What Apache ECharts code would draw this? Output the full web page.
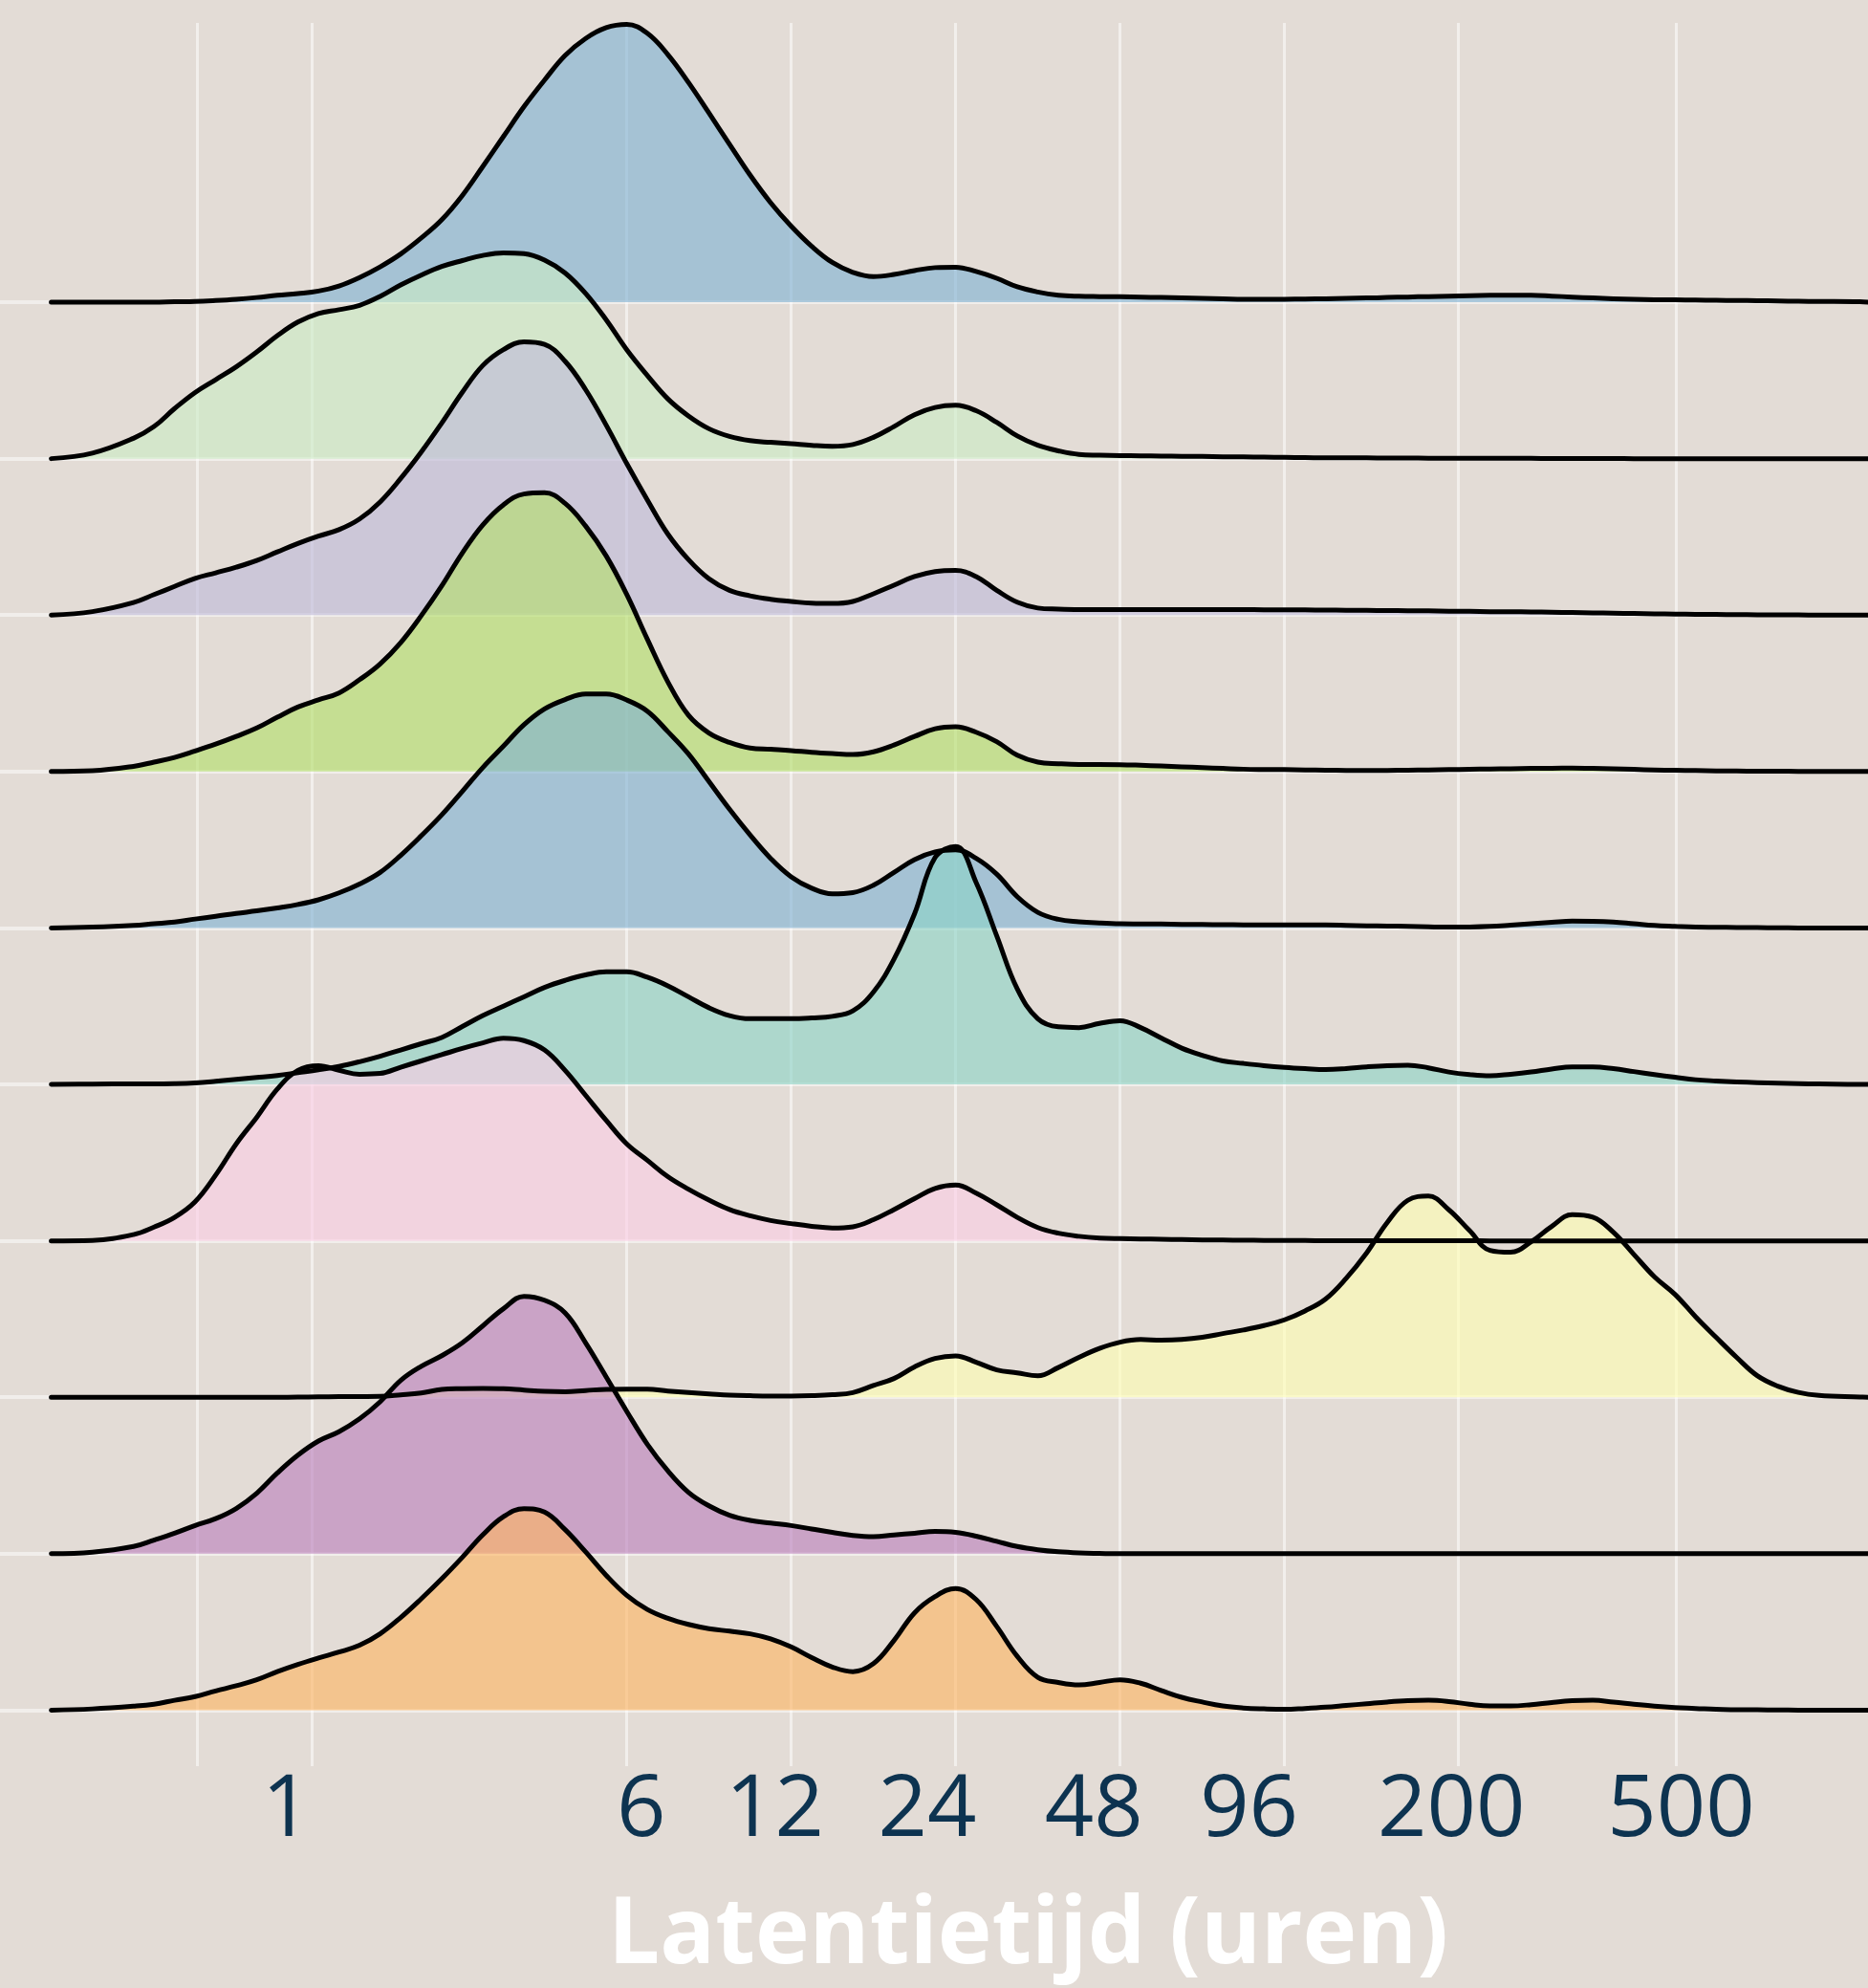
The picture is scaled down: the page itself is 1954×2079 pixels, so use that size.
<!DOCTYPE html>
<html><head><meta charset="utf-8">
<script src="https://cdn.jsdelivr.net/npm/echarts@6/dist/echarts.min.js"></script>
<style>html,body{margin:0;padding:0;background:#E3DCD6;}#c{width:1954px;height:2079px;}</style>
</head><body><div id="c"></div>
<script>
// Sample positions (hours) shared by all ridgelines
const hours = [0.5303, 0.6307,
  0.75, 0.8179, 0.8919, 0.9726, 1.0607, 1.1567, 1.2613, 1.3755, 1.5, 1.6358,
  1.7838, 1.9453, 2.1213, 2.3134, 2.5227, 2.7511, 3, 3.2716, 3.5676, 3.8906,
  4.2426, 4.6268, 5.0454, 5.5022, 6, 6.5431, 7.1352, 7.781, 8.4853, 9.2533,
  10.0907, 11.004, 12, 13.086, 14.2705, 15.562, 16.9706, 18.507, 20.1815, 22.009,
  24, 26.172, 28.541, 31.124, 33.941, 37.013, 40.363, 44.016, 48, 52.345,
  57.082, 62.249, 67.882, 74.026, 80.726, 88.032, 96, 104.69, 114.16, 124.5,
  135.76, 148.05, 161.45, 176.06, 192, 209.38, 228.33, 248.99, 271.53, 296.1,
  322.9, 352.13, 384, 418.75, 456.66, 497.98, 543.06, 592.21, 645.8, 704.26,
  768, 837.5, 913.3,
  1086.1, 1124];

// Density heights (ridge units), top ridge first
const ridge1 = [0, 0,
  0, 0, 0.003, 0.005, 0.011, 0.019, 0.03, 0.044, 0.055, 0.071,
  0.104, 0.158, 0.226, 0.308, 0.41, 0.527, 0.682, 0.868, 1.059, 1.25,
  1.42, 1.577, 1.686, 1.755, 1.776, 1.719, 1.583, 1.405, 1.209, 1.01,
  0.813, 0.636, 0.486, 0.357, 0.254, 0.191, 0.164, 0.177, 0.202, 0.221,
  0.224, 0.196, 0.153, 0.098, 0.065, 0.045, 0.038, 0.036, 0.035, 0.032,
  0.03, 0.027, 0.025, 0.022, 0.019, 0.019, 0.019, 0.02, 0.022, 0.025,
  0.027, 0.03, 0.033, 0.036, 0.038, 0.041, 0.044, 0.045, 0.044, 0.039,
  0.033, 0.027, 0.022, 0.019, 0.016, 0.015, 0.014, 0.012, 0.011, 0.01,
  0.008, 0.006, 0.005,
  0.003, 0];
const ridge2 = [0, 0.035,
  0.13, 0.205, 0.32, 0.423, 0.505, 0.587, 0.682, 0.786, 0.873, 0.928,
  0.952, 0.98, 1.037, 1.11, 1.173, 1.228, 1.266, 1.299, 1.315, 1.31,
  1.269, 1.187, 1.056, 0.887, 0.696, 0.532, 0.382, 0.273, 0.191, 0.142,
  0.115, 0.104, 0.095, 0.085, 0.079, 0.09, 0.136, 0.205, 0.281, 0.327,
  0.341, 0.306, 0.232, 0.145, 0.085, 0.05, 0.027, 0.022, 0.019, 0.018,
  0.016, 0.015, 0.014, 0.012, 0.011, 0.01, 0.008, 0.007, 0.005, 0.005,
  0.005, 0.004, 0.004, 0.003, 0.003, 0.002, 0.002, 0.002, 0.002, 0.001,
  0.001, 0.001, 0.001, 0, 0, 0, 0, 0, 0, 0,
  0, 0, 0,
  0, 0];
const ridge3 = [0, 0.022,
  0.08, 0.131, 0.183, 0.235, 0.27, 0.306, 0.349, 0.404, 0.458, 0.505,
  0.546, 0.614, 0.723, 0.873, 1.042, 1.228, 1.424, 1.596, 1.697, 1.746,
  1.73, 1.623, 1.441, 1.214, 0.969, 0.737, 0.518, 0.355, 0.232, 0.158,
  0.123, 0.101, 0.087, 0.076, 0.074, 0.087, 0.136, 0.191, 0.246, 0.278,
  0.286, 0.246, 0.158, 0.082, 0.045, 0.038, 0.035, 0.035, 0.035, 0.035,
  0.035, 0.035, 0.035, 0.035, 0.035, 0.034, 0.033, 0.033, 0.032, 0.031,
  0.03, 0.029, 0.028, 0.027, 0.025, 0.024, 0.022, 0.021, 0.02, 0.018,
  0.016, 0.014, 0.012, 0.01, 0.008, 0.006, 0.005, 0.004, 0.003, 0.002,
  0.002, 0.001, 0,
  0, 0];
const ridge4 = [0, 0.005,
  0.033, 0.06, 0.09, 0.131, 0.175, 0.224, 0.278, 0.347, 0.412, 0.458,
  0.502, 0.587, 0.688, 0.824, 0.996, 1.187, 1.397, 1.577, 1.705, 1.774,
  1.782, 1.714, 1.569, 1.378, 1.132, 0.846, 0.573, 0.36, 0.246, 0.186,
  0.15, 0.142, 0.134, 0.123, 0.115, 0.109, 0.126, 0.169, 0.224, 0.273,
  0.286, 0.251, 0.191, 0.104, 0.06, 0.05, 0.045, 0.045, 0.044, 0.04,
  0.035, 0.03, 0.025, 0.02, 0.015, 0.013, 0.012, 0.01, 0.008, 0.007,
  0.006, 0.007, 0.008, 0.01, 0.012, 0.014, 0.016, 0.018, 0.02, 0.021,
  0.022, 0.02, 0.018, 0.014, 0.01, 0.008, 0.006, 0.004, 0.003, 0.002,
  0.002, 0.001, 0,
  0, 0];
const ridge5 = [0, 0.005,
  0.016, 0.027, 0.038, 0.057, 0.074, 0.093, 0.109, 0.128, 0.15, 0.18,
  0.224, 0.281, 0.355, 0.464, 0.589, 0.723, 0.873, 1.026, 1.162, 1.299,
  1.40, 1.46, 1.495, 1.495, 1.457, 1.386, 1.255, 1.113, 0.936, 0.759,
  0.595, 0.445, 0.327, 0.254, 0.218, 0.226, 0.273, 0.355, 0.437, 0.486,
  0.499, 0.445, 0.344, 0.2, 0.1, 0.055, 0.04, 0.032, 0.027, 0.026,
  0.025, 0.023, 0.022, 0.021, 0.02, 0.02, 0.019, 0.019, 0.019, 0.017,
  0.014, 0.012, 0.01, 0.007, 0.005, 0.006, 0.01, 0.018, 0.027, 0.036,
  0.044, 0.043, 0.038, 0.027, 0.016, 0.01, 0.005, 0.004, 0.003, 0.002,
  0.001, 0, 0,
  0, 0];
const ridge6 = [0, 0.002,
  0.003, 0.003, 0.005, 0.01, 0.02, 0.032, 0.044, 0.057, 0.075, 0.093,
  0.115, 0.145, 0.18, 0.22, 0.26, 0.30, 0.37, 0.44, 0.50, 0.56,
  0.62, 0.665, 0.70, 0.72, 0.72, 0.685, 0.63, 0.56, 0.49, 0.44,
  0.42, 0.42, 0.42, 0.425, 0.435, 0.47, 0.59, 0.80, 1.09, 1.45,
  1.52, 1.29, 0.95, 0.61, 0.42, 0.368, 0.363, 0.39, 0.407, 0.363,
  0.297, 0.232, 0.186, 0.15, 0.134, 0.12, 0.109, 0.101, 0.095, 0.101,
  0.112, 0.12, 0.123, 0.106, 0.079, 0.063, 0.055, 0.065, 0.079, 0.098,
  0.112, 0.112, 0.101, 0.082, 0.063, 0.046, 0.03, 0.022, 0.016, 0.011,
  0.008, 0.005, 0.003,
  0, 0];
const ridge7 = [0, 0.003,
  0.04, 0.088, 0.15, 0.25, 0.42, 0.62, 0.79, 0.97, 1.09, 1.12,
  1.09, 1.065, 1.07, 1.11, 1.15, 1.19, 1.23, 1.265, 1.295, 1.28,
  1.22, 1.09, 0.93, 0.77, 0.62, 0.515, 0.41, 0.33, 0.26, 0.2,
  0.16, 0.13, 0.11, 0.093, 0.082, 0.09, 0.135, 0.2, 0.27, 0.335,
  0.357, 0.305, 0.23, 0.15, 0.085, 0.049, 0.029, 0.018, 0.014, 0.012,
  0.01, 0.008, 0.006, 0.005, 0.004, 0.003, 0.002, 0.002, 0.001, 0.001,
  0.001, 0.001, 0.001, 0.001, 0.001, 0.001, 0, 0, 0, 0,
  0, 0, 0, 0, 0, 0, 0, 0, 0, 0,
  0, 0, 0,
  0, 0];
const ridge8 = [0, 0,
  0, 0, 0, 0, 0, 0, 0, 0, 0.001, 0.003,
  0.004, 0.005, 0.006, 0.015, 0.027, 0.05, 0.055, 0.057, 0.055, 0.046,
  0.038, 0.035, 0.043, 0.051, 0.052, 0.052, 0.04, 0.03, 0.022, 0.014,
  0.01, 0.008, 0.008, 0.01, 0.016, 0.03, 0.075, 0.12, 0.194, 0.248,
  0.265, 0.224, 0.175, 0.156, 0.137, 0.19, 0.255, 0.312, 0.352, 0.369,
  0.365, 0.369, 0.383, 0.407, 0.43, 0.458, 0.495, 0.552, 0.628, 0.76,
  0.923, 1.117, 1.259, 1.286, 1.198, 1.066, 0.939, 0.927, 0.994, 1.092,
  1.167, 1.151, 1.055, 0.913, 0.77, 0.658, 0.515, 0.383, 0.255, 0.138,
  0.071, 0.031, 0.012,
  0.002, 0];
const ridge9 = [0, 0.01,
  0.046, 0.087, 0.131, 0.18, 0.224, 0.289, 0.387, 0.516, 0.63, 0.72,
  0.78, 0.862, 0.971, 1.108, 1.198, 1.266, 1.348, 1.457, 1.566, 1.645,
  1.62, 1.539, 1.348, 1.13, 0.91, 0.70, 0.53, 0.393, 0.306, 0.246,
  0.213, 0.196, 0.18, 0.158, 0.136, 0.117, 0.109, 0.12, 0.131, 0.142,
  0.136, 0.112, 0.079, 0.046, 0.025, 0.012, 0.005, 0.002, 0, 0,
  0, 0, 0, 0, 0, 0, 0, 0, 0, 0,
  0, 0, 0, 0, 0, 0, 0, 0, 0, 0,
  0, 0, 0, 0, 0, 0, 0, 0, 0, 0,
  0, 0, 0,
  0, 0];
const ridge10 = [0, 0.008,
  0.025, 0.038, 0.063, 0.087, 0.123, 0.156, 0.194, 0.246, 0.292, 0.333,
  0.371, 0.415, 0.488, 0.592, 0.712, 0.84, 0.977, 1.121, 1.236, 1.288,
  1.266, 1.154, 1.012, 0.862, 0.734, 0.644, 0.587, 0.548, 0.521, 0.505,
  0.488, 0.456, 0.404, 0.336, 0.276, 0.246, 0.297, 0.445, 0.622, 0.726,
  0.778, 0.707, 0.535, 0.344, 0.21, 0.177, 0.161, 0.177, 0.194, 0.172,
  0.126, 0.082, 0.052, 0.027, 0.014, 0.008, 0.005, 0.011, 0.019, 0.03,
  0.041, 0.052, 0.06, 0.063, 0.055, 0.038, 0.027, 0.027, 0.035, 0.049,
  0.06, 0.063, 0.052, 0.038, 0.025, 0.016, 0.011, 0.005, 0.003, 0.002,
  0.001, 0, 0,
  0, 0];

const ridges = [ridge1, ridge2, ridge3, ridge4, ridge5, ridge6, ridge7, ridge8, ridge9, ridge10];
const ridgeColors = ['#80B1D3', '#CCEBC5', '#BEBADA', '#B3DE69', '#80B1D3', '#8DD3C7', '#FCCDE5', '#FFFFB3', '#BC80BD', '#FDB462'];
const baselines = [0, 1, 2, 3, 4, 5, 6, 7, 8, 9];

// Axis furniture
const gridHours = [0.98, 1.59, 6, 12, 24, 48, 96, 200, 500];
const tickLabels = ['1', '6', '12', '24', '48', '96', '200', '500'];
const tickLabelHours = [1.43, 6.38, 11.2, 21.3, 43.0, 82.7, 194, 511];
const xTitle = 'Latentietijd (uren)';

const xMin = -1.22667, xMax = 10.1338;  // log2(hours)
const yMin = -0.358, yMax = 10.785;

const labelPos = tickLabelHours.map(Math.log2);

const series = ridges.map((h, i) => {
  const base = baselines[ridges.length - 1 - i];
  return {
    type: 'line',
    name: 'rij ' + (i + 1),
    xAxisIndex: 0,
    yAxisIndex: 0,
    data: hours.map((x, j) => [Math.log2(x), base + h[j]]),
    smooth: 0.4,
    symbol: 'none',
    silent: true,
    lineStyle: { color: '#000', width: 5, join: 'round', cap: 'round' },
    areaStyle: { color: ridgeColors[i], opacity: 0.62, origin: base }
  };
});

const chart = echarts.init(document.getElementById('c'), null, { renderer: 'canvas' });
chart.setOption({
  backgroundColor: '#E3DCD6',
  animation: false,
  title: {
    text: xTitle, left: 636, top: 1978, padding: 0,
    textStyle: { color: '#ffffff', fontSize: 96, fontWeight: 'bold', fontFamily: 'Open Sans' }
  },
  grid: { left: 0, right: 0, top: 24, bottom: 232, containLabel: false, outerBoundsMode: 'none' },
  xAxis: [
    {
      type: 'value', min: xMin, max: xMax, position: 'bottom',
      axisLine: { show: false },
      axisTick: { show: false, customValues: gridHours.map(Math.log2) },
      axisLabel: { show: false },
      splitLine: { show: true, lineStyle: { color: 'rgba(255,255,255,0.55)', width: 3 } }
    },
    {
      type: 'value', min: xMin, max: xMax, position: 'bottom',
      axisLine: { show: false },
      axisTick: { show: false },
      splitLine: { show: false },
      axisLabel: {
        show: true, customValues: labelPos, margin: 2,
        fontSize: 90, color: '#0D3350', fontFamily: 'Open Sans',
        formatter: function (v) {
          let best = 0, d = Infinity;
          labelPos.forEach((p, i) => { const e = Math.abs(p - v); if (e < d) { d = e; best = i; } });
          return tickLabels[best];
        }
      }
    }
  ],
  yAxis: {
    type: 'value', min: yMin, max: yMax,
    axisLine: { show: false },
    axisTick: { show: false, customValues: baselines },
    axisLabel: { show: false },
    splitLine: { show: true, lineStyle: { color: 'rgba(255,255,255,0.5)', width: 4 } }
  },
  series: series
});
</script>
</body></html>
